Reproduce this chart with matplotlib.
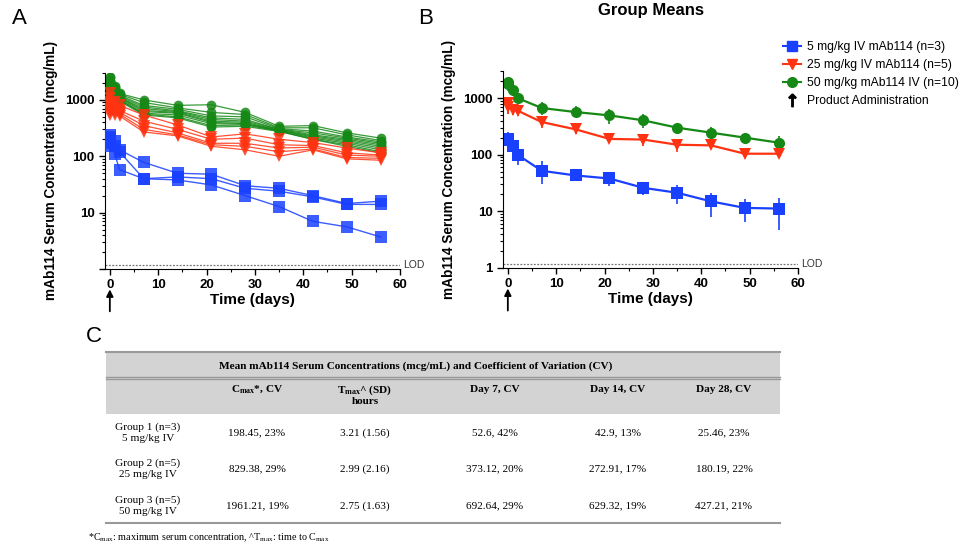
import matplotlib
matplotlib.use("Agg")
import matplotlib.pyplot as plt
from matplotlib.lines import Line2D
from matplotlib.patches import Rectangle
import numpy as np

plt.rcParams['font.family'] = ['Liberation Sans', 'DejaVu Sans']

# ---------------- data ----------------
times = [0, 0.125, 1, 2, 7, 14, 21, 28, 35, 42, 49, 56]

blue_subjects = [
    [150, 170, 110, 58, 40, 38, 31, 20, 12.8, 7, 5.6, 3.7],
    [240, 220, 190, 130, 78, 50, 48, 30, 27, 20, 14.5, 16],
    [180, 200, 150, 120, 40, 43, 40, 27, 24, 19, 14, 14],
]
red_subjects = [
    [1300, 1100, 900, 800, 540, 360, 220, 250, 200, 175, 140, 115],
    [900, 850, 700, 650, 420, 300, 200, 210, 160, 155, 115, 105],
    [800, 700, 650, 600, 350, 260, 170, 170, 140, 145, 105, 100],
    [700, 650, 600, 560, 300, 240, 160, 150, 120, 135, 95, 92],
    [600, 550, 550, 520, 270, 230, 150, 130, 100, 130, 90, 85],
]
green_subjects = [
    [2500, 2600, 1800, 1300, 1000, 800, 820, 600, 340, 350, 260, 210],
    [2200, 2300, 1700, 1250, 900, 720, 600, 550, 320, 320, 240, 190],
    [2000, 2100, 1600, 1200, 800, 680, 520, 500, 310, 280, 220, 180],
    [1900, 2000, 1500, 1150, 750, 640, 480, 450, 300, 260, 210, 170],
    [1800, 1900, 1450, 1100, 700, 620, 450, 420, 300, 240, 200, 160],
    [1700, 1800, 1400, 1100, 650, 600, 420, 400, 290, 230, 190, 150],
    [1600, 1700, 1350, 1050, 620, 580, 400, 380, 290, 220, 180, 140],
    [1500, 1600, 1300, 1000, 580, 540, 380, 370, 285, 210, 170, 130],
    [1300, 1500, 1250, 1000, 560, 500, 350, 360, 280, 200, 160, 120],
    [1200, 1400, 1200, 950, 540, 480, 330, 340, 275, 200, 150, 115],
]

blue_mean = [179, 190, 140, 100, 52, 43, 38, 26, 21.3, 15, 11.5, 11.2]
blue_lo = [120, 125, 110, 65, 30.8, 39, 28, 19.6, 13.3, 8, 6.4, 4.6]
blue_hi = [235, 250, 200, 135, 77, 47, 46, 29.7, 29.7, 21.3, 16.5, 17.3]
red_mean = [830, 700, 620, 600, 377, 280, 190, 185, 150, 146, 104, 104]
red_lo = [520, 530, 500, 480, 296, 229, 168, 140, 111, 128, 98, 97]
red_hi = [1050, 900, 720, 680, 475, 343, 218, 235, 184, 160, 112, 112]
green_mean = [1790, 1900, 1365, 1000, 667, 566, 494, 404, 300, 245, 200, 163]
green_lo = [1350, 1500, 1100, 900, 494, 462, 343, 300, 276, 192, 167, 128]
green_hi = [2280, 2300, 1600, 1100, 850, 713, 648, 515, 330, 308, 240, 210]

lod = 1.2
legend_labels = ["5 mg/kg IV mAb114 (n=3)", "25 mg/kg IV mAb114 (n=5)",
                 "50 mg/kg mAb114 IV (n=10)", "Product Administration"]

table_title = "Mean mAb114 Serum Concentrations (mcg/mL) and Coefficient of Variation (CV)"
col_headers = [r"C$_{\mathregular{max}}$*, CV", "T$_{\\mathregular{max}}$^ (SD)\nhours",
               "Day 7, CV", "Day 14, CV", "Day 28, CV"]
row_labels = ["Group 1 (n=3)\n5 mg/kg IV", "Group 2 (n=5)\n25 mg/kg IV",
              "Group 3 (n=5)\n50 mg/kg IV"]
cells = [
    ["198.45, 23%", "3.21 (1.56)", "52.6, 42%", "42.9, 13%", "25.46, 23%"],
    ["829.38, 29%", "2.99 (2.16)", "373.12, 20%", "272.91, 17%", "180.19, 22%"],
    ["1961.21, 19%", "2.75 (1.63)", "692.64, 29%", "629.32, 19%", "427.21, 21%"],
]
footnote = (r"*C$_{\mathregular{max}}$: maximum serum concentration, "
            r"^T$_{\mathregular{max}}$: time to C$_{\mathregular{max}}$")

BLUE = '#1a40ff'
RED = '#ff3311'
GREEN = '#168816'

W, H = 969, 546
fig = plt.figure(figsize=(W / 100, H / 100), dpi=100)


def style_axes(ax, show_one):
    ax.set_yscale('log')
    ax.set_ylim(1, 3000)
    ax.set_xlim(-1, 60)
    ax.spines['top'].set_visible(False)
    ax.spines['right'].set_visible(False)
    ax.set_xticks(range(0, 61, 10))
    ax.set_xticks(range(5, 60, 10), minor=True)
    ax.set_yticks([1, 10, 100, 1000])
    ax.set_yticklabels(['1' if show_one else '', '10', '100', '1000'])
    ax.tick_params(axis='both', which='major', labelsize=9.5, length=4, width=1)
    ax.tick_params(axis='both', which='minor', length=2.5, width=0.8)
    for lbl in ax.get_xticklabels() + ax.get_yticklabels():
        lbl.set_fontweight('bold')
    ax.set_xlabel('Time (days)', fontsize=11, fontweight='bold', labelpad=1)
    ax.set_ylabel('mAb114 Serum Concentration (mcg/mL)', fontsize=9.8,
                  fontweight='bold', labelpad=5)
    ax.axhline(lod, color='#777777', lw=0.9, ls=(0, (1.5, 1.2)), xmin=0, xmax=1)
    ax.text(1.012, lod, 'LOD', transform=ax.get_yaxis_transform(), fontsize=7.5,
            va='center', ha='left', color='#333333', clip_on=False)
    ax.annotate('', xy=(0, -0.09), xycoords=('data', 'axes fraction'),
                xytext=(0, -0.23), textcoords=('data', 'axes fraction'),
                arrowprops=dict(arrowstyle='-|>', color='black', lw=1.3,
                                mutation_scale=10))


# Panel A
axA = fig.add_axes([105 / W, 1 - 269 / H, 295 / W, 196 / H])
for s in green_subjects:
    axA.plot(times, s, color=GREEN, lw=0.9, alpha=0.85, marker='o', ms=7,
             markeredgewidth=0, zorder=2)
for s in red_subjects:
    axA.plot(times, s, color=RED, lw=0.9, alpha=0.85, marker='v', ms=8,
             markeredgewidth=0, zorder=3)
for s in blue_subjects:
    axA.plot(times, s, color=BLUE, lw=1.0, alpha=0.85, marker='s', ms=8.5,
             markeredgewidth=0, zorder=4)
style_axes(axA, False)

# Panel B
axB = fig.add_axes([503 / W, 1 - 268 / H, 295 / W, 197 / H])
for mean, lo, hi, col, mk, ms in [
        (green_mean, green_lo, green_hi, GREEN, 'o', 8),
        (red_mean, red_lo, red_hi, RED, 'v', 8.5),
        (blue_mean, blue_lo, blue_hi, BLUE, 's', 9)]:
    m = np.array(mean)
    yerr = [m - np.array(lo), np.array(hi) - m]
    axB.errorbar(times, m, yerr=yerr, color=col, lw=1.6, marker=mk, ms=ms,
                 markeredgewidth=0, capsize=4, capthick=1.2, elinewidth=1.2)
style_axes(axB, True)
axB.set_title('Group Means', fontsize=12, fontweight='bold', pad=40)

# Legend
handles = [
    Line2D([], [], color=BLUE, marker='s', lw=1.5, ms=7),
    Line2D([], [], color=RED, marker='v', lw=1.5, ms=7),
    Line2D([], [], color=GREEN, marker='o', lw=1.5, ms=7),
    Line2D([], [], color='black', marker=r'$\uparrow$', lw=0, ms=9),
]
fig.legend(handles, legend_labels, loc='upper left',
           bbox_to_anchor=(783 / W, 1 - 41 / H), frameon=False, fontsize=8.7,
           handlelength=1.5, handletextpad=0.5, labelspacing=0.5,
           borderaxespad=0, borderpad=0)

# Panel letters
fig.text(12 / W, 1 - 18 / H, 'A', fontsize=16, va='center', ha='left')
fig.text(418 / W, 1 - 18 / H, 'B', fontsize=16, va='center', ha='left')
fig.text(86 / W, 1 - 336 / H, 'C', fontsize=16, va='center', ha='left')

# Table C
axT = fig.add_axes([0, 0, 1, 1])
axT.set_xlim(0, W)
axT.set_ylim(H, 0)
axT.axis('off')
x0, x1 = 106, 780
gray = '#d3d3d3'
axT.add_patch(Rectangle((x0, 352), x1 - x0, 62, color=gray, lw=0))
axT.plot([x0, x1], [352, 352], color='#999999', lw=1.5)
axT.plot([x0, x1], [376.5, 376.5], color='#999999', lw=1.0)
axT.plot([x0, x1], [378.5, 378.5], color='#999999', lw=1.0)
axT.plot([x0, x1], [523, 523], color='#999999', lw=1.5)
serif = ['Liberation Serif', 'DejaVu Serif']
FS = 8.1
axT.text(416, 366, table_title, family=serif, fontsize=FS, fontweight='bold',
         ha='center', va='center')
col_x = [257, 365, 495, 618, 724]
for cx, hd in zip(col_x, col_headers):
    for k, line in enumerate(hd.split('\n')):
        axT.text(cx, 390 + 12 * k, line, family=serif, fontsize=FS,
                 fontweight='bold', ha='center', va='center')
row_y = [433, 469, 506]
for ry, rl, rowcells in zip(row_y, row_labels, cells):
    axT.text(148, ry, rl, family=serif, fontsize=FS, ha='center', va='center',
             linespacing=1.25)
    for cx, c in zip(col_x, rowcells):
        axT.text(cx, ry, c, family=serif, fontsize=FS, ha='center', va='center')
axT.text(88, 538, footnote, family=serif, fontsize=7.3, ha='left', va='center')

fig.savefig('out.png', dpi=100)
